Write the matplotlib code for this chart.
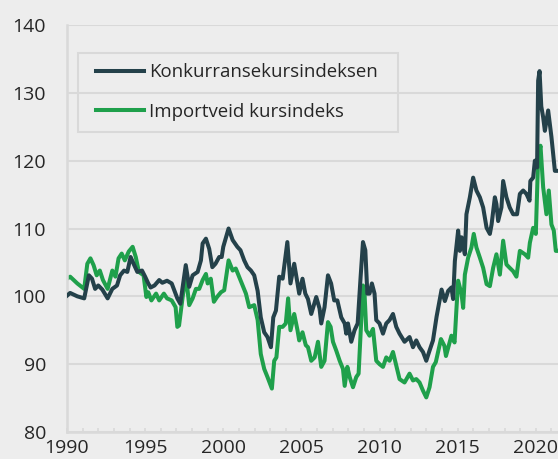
import numpy as np
import matplotlib.pyplot as plt
from matplotlib.patches import Rectangle

# Konkurransekursindeksen
konk_t = [1990.0, 1990.2, 1990.66, 1991.1, 1991.4, 1991.6, 1991.8, 1992.0, 1992.26, 1992.6,
          1992.9, 1993.2, 1993.4, 1993.65, 1993.86, 1994.07, 1994.3, 1994.5, 1994.8, 1995.0,
          1995.2, 1995.35, 1995.6, 1995.9, 1996.1, 1996.4, 1996.7, 1997.06, 1997.25, 1997.5,
          1997.6, 1997.82, 1998.04, 1998.36, 1998.57, 1998.68, 1998.89, 1999.1, 1999.3, 1999.5,
          1999.74, 1999.9, 2000.0, 2000.34, 2000.6, 2000.9, 2001.1, 2001.34, 2001.55, 2001.77,
          2001.98, 2002.2, 2002.4, 2002.62, 2002.83, 2003.05, 2003.2, 2003.37, 2003.58, 2003.8,
          2004.1, 2004.3, 2004.54, 2004.86, 2005.07, 2005.25, 2005.42, 2005.63, 2005.95, 2006.16,
          2006.27, 2006.48, 2006.7, 2006.9, 2007.1, 2007.3, 2007.55, 2007.77, 2007.87, 2007.98,
          2008.19, 2008.4, 2008.6, 2008.79, 2008.94, 2009.09, 2009.22, 2009.36, 2009.51, 2009.68,
          2009.79, 2010.0, 2010.22, 2010.43, 2010.64, 2010.86, 2011.07, 2011.28, 2011.6, 2011.92,
          2012.14, 2012.35, 2012.56, 2012.78, 2012.99, 2013.2, 2013.42, 2013.65, 2013.97, 2014.18,
          2014.39, 2014.6, 2014.71, 2014.82, 2015.03, 2015.14, 2015.25, 2015.46, 2015.56, 2015.78,
          2015.99, 2016.2, 2016.42, 2016.63, 2016.85, 2017.06, 2017.17, 2017.38, 2017.48, 2017.59,
          2017.8, 2017.91, 2018.12, 2018.33, 2018.55, 2018.8, 2018.98, 2019.19, 2019.4, 2019.6,
          2019.65, 2019.83, 2019.94, 2020.08, 2020.15, 2020.24, 2020.35, 2020.47, 2020.58, 2020.79,
          2021.0, 2021.22, 2021.42]
konk = [100.1, 100.5, 100.0, 99.7, 103.1, 102.6, 101.1, 101.6, 101.0, 99.7,
        101.1, 101.6, 103.1, 103.8, 103.6, 105.8, 104.6, 103.6, 103.8, 102.9,
        101.9, 101.3, 101.6, 102.4, 102.0, 102.3, 101.9, 99.7, 98.9, 102.9,
        104.6, 101.4, 103.1, 103.6, 105.3, 107.8, 108.5, 107.0, 104.3, 104.8,
        105.8, 105.8, 107.3, 110.0, 108.3, 107.3, 106.8, 105.3, 104.3, 103.8,
        103.1, 100.8, 96.9, 94.7, 94.0, 92.5, 96.9, 97.9, 102.9, 102.6,
        108.0, 101.9, 104.8, 100.4, 102.6, 100.4, 99.6, 97.4, 99.9, 98.2,
        96.0, 98.4, 103.1, 101.9, 99.4, 99.4, 96.9, 96.0, 94.5, 96.0,
        93.3, 95.0, 96.0, 102.9, 108.0, 106.8, 100.4, 100.4, 101.9, 100.4,
        96.5, 96.0, 94.5, 96.0, 96.5, 97.4, 95.5, 94.5, 93.3, 94.0,
        92.5, 93.5, 92.5, 91.8, 90.5, 92.0, 93.5, 97.0, 101.0, 99.3,
        100.8, 101.3, 99.6, 105.2, 109.7, 106.7, 108.7, 106.2, 112.1, 114.6,
        117.5, 115.6, 114.6, 113.1, 110.1, 109.2, 110.6, 114.6, 113.6, 111.1,
        113.1, 117.0, 114.6, 113.1, 112.1, 112.1, 115.1, 115.6, 115.1, 114.1,
        117.0, 117.5, 120.0, 119.0, 131.8, 133.2, 128.0, 126.4, 124.4, 127.4,
        123.5, 118.5, 118.5]

# Importveid kursindeks
imp_t = [1990.0, 1990.2, 1990.66, 1991.1, 1991.3, 1991.5, 1991.7, 1991.9, 1992.1, 1992.3,
         1992.6, 1992.9, 1993.1, 1993.3, 1993.5, 1993.7, 1993.95, 1994.2, 1994.4, 1994.6,
         1994.9, 1995.08, 1995.2, 1995.4, 1995.7, 1995.9, 1996.2, 1996.4, 1996.7, 1996.95,
         1997.06, 1997.17, 1997.4, 1997.61, 1997.82, 1998.04, 1998.25, 1998.46, 1998.68, 1998.89,
         1999.0, 1999.2, 1999.4, 1999.6, 1999.85, 2000.06, 2000.34, 2000.6, 2000.8, 2001.1,
         2001.45, 2001.66, 2001.98, 2002.2, 2002.4, 2002.62, 2002.83, 2003.11, 2003.26, 2003.4,
         2003.58, 2003.8, 2004.0, 2004.15, 2004.3, 2004.54, 2004.75, 2004.86, 2005.07, 2005.28,
         2005.42, 2005.63, 2005.85, 2006.06, 2006.27, 2006.48, 2006.7, 2006.87, 2007.02, 2007.23,
         2007.45, 2007.66, 2007.77, 2007.94, 2008.09, 2008.3, 2008.51, 2008.66, 2008.83, 2008.94,
         2009.04, 2009.15, 2009.36, 2009.58, 2009.79, 2010.0, 2010.22, 2010.43, 2010.64, 2010.86,
         2011.07, 2011.28, 2011.6, 2011.92, 2012.14, 2012.35, 2012.56, 2012.78, 2012.99, 2013.2,
         2013.42, 2013.6, 2013.93, 2014.15, 2014.25, 2014.6, 2014.8, 2014.92, 2015.03, 2015.25,
         2015.35, 2015.46, 2015.67, 2015.88, 2016.03, 2016.2, 2016.42, 2016.63, 2016.85, 2017.06,
         2017.27, 2017.48, 2017.7, 2017.91, 2018.12, 2018.33, 2018.55, 2018.76, 2018.98, 2019.3,
         2019.51, 2019.62, 2019.83, 2020.0, 2020.15, 2020.3, 2020.47, 2020.68, 2020.83, 2021.0,
         2021.15, 2021.28, 2021.42]
imp = [102.6, 102.9, 101.9, 101.1, 104.8, 105.6, 104.6, 103.1, 103.8, 102.4,
       101.1, 103.8, 102.9, 105.6, 106.3, 105.3, 106.6, 107.3, 105.8, 103.6,
       103.1, 99.9, 100.6, 99.4, 100.4, 99.4, 100.4, 99.7, 99.4, 98.4,
       95.5, 95.7, 99.9, 103.1, 98.7, 99.7, 101.1, 101.1, 102.4, 103.3,
       101.9, 102.6, 99.2, 99.9, 100.6, 100.9, 105.3, 103.8, 104.1, 102.4,
       100.4, 98.4, 98.7, 96.5, 91.5, 89.3, 88.1, 86.4, 90.5, 91.0,
       95.5, 95.5, 96.0, 99.7, 95.0, 97.4, 95.0, 93.5, 94.7, 92.8,
       92.5, 90.5, 91.0, 93.3, 89.6, 90.5, 96.2, 95.5, 93.3, 92.0,
       90.5, 89.3, 86.8, 89.6, 88.1, 86.6, 88.1, 88.6, 96.5, 101.6,
       100.4, 95.0, 94.2, 95.2, 90.5, 90.0, 89.6, 91.0, 90.5, 91.8,
       89.8, 87.8, 87.3, 88.6, 87.6, 87.8, 87.3, 86.1, 85.1, 86.6,
       89.6, 90.3, 93.7, 92.7, 91.2, 94.2, 93.2, 98.1, 102.3, 100.3,
       98.3, 103.2, 105.7, 107.2, 109.2, 107.2, 105.7, 104.2, 101.8, 101.5,
       104.2, 106.2, 103.2, 108.2, 104.7, 104.2, 103.7, 102.9, 106.7, 106.2,
       105.7, 107.9, 110.1, 109.2, 120.5, 122.2, 116.1, 112.1, 115.6, 110.6,
       109.7, 106.7, 106.7]

bg = '#ededed'
gridc = '#d9d9d9'
textc = '#262626'
plt.rcParams['font.family'] = ['Open Sans', 'DejaVu Sans']

W, H = 558, 459
fig = plt.figure(figsize=(W / 100, H / 100), dpi=100, facecolor=bg)
ax = fig.add_axes([67 / W, 1 - 432 / H, 1 - 67 / W, (432 - 25) / H])
ax.set_facecolor(bg)

ax.plot(konk_t, konk, color='#24414a', lw=2.9, label='Konkurransekursindeksen', zorder=3)
ax.plot(imp_t, imp, color='#1fa04b', lw=2.9, label='Importveid kursindeks', zorder=2)

ax.set_xlim(1990, 2021.42)
ax.set_ylim(80, 140)
ax.set_yticks(range(80, 141, 10))
ax.set_xticks(range(1990, 2021, 5))
ax.set_xticks(range(1990, 2022), minor=True)
ax.grid(axis='y', color=gridc, lw=1.5)
ax.set_axisbelow(True)

for s in ['top', 'right']:
    ax.spines[s].set_visible(False)
for s in ['left', 'bottom']:
    ax.spines[s].set_color(gridc)
    ax.spines[s].set_linewidth(1.8)

ax.tick_params(axis='y', length=0, pad=15, labelsize=14, labelcolor=textc)
ax.tick_params(axis='x', which='both', direction='in', length=3, width=1.2, color=gridc,
               pad=5, labelsize=14, labelcolor=textc)

# legend without frame, frame drawn separately (wider side padding)
leg = ax.legend(loc='center left', bbox_to_anchor=(96 / W, 1 - 92 / H), bbox_transform=fig.transFigure,
                frameon=False, fontsize=13.4, handlelength=2.6, handletextpad=0.27,
                labelspacing=1.13, borderpad=0, borderaxespad=0)
for t in leg.get_texts():
    t.set_color(textc)
fig.patches.append(Rectangle((78 / W, 1 - 132 / H), (398 - 78) / W, (132 - 53) / H,
                             transform=fig.transFigure, fill=False, edgecolor=gridc, lw=1.5))

plt.savefig('out.png', dpi=100, facecolor=bg)
